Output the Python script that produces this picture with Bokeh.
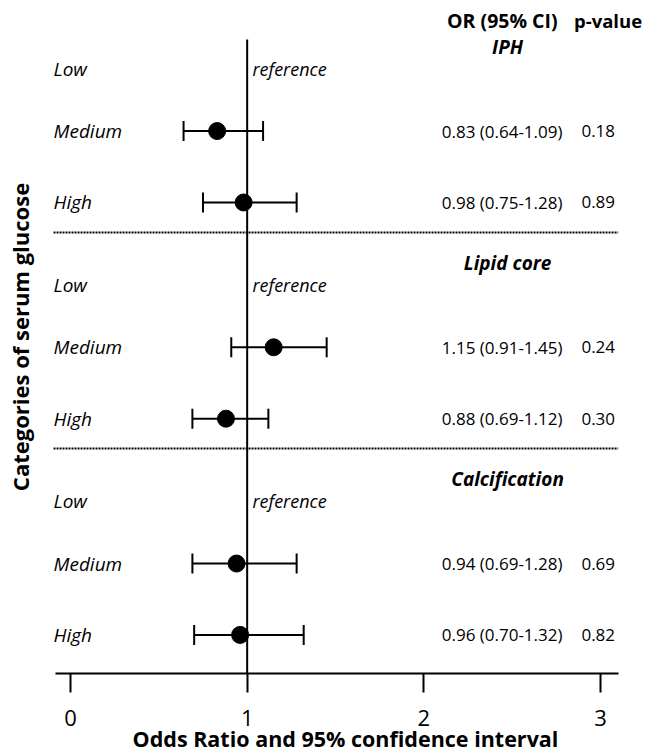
import math
from bokeh.plotting import figure
from bokeh.models import ColumnDataSource, Range1d, FixedTicker, Whisker, TeeHead, LabelSet
from bokeh.core.properties import value
from bokeh.embed import file_html
from bokeh.resources import INLINE

# ---------------- data ----------------
sections = ["IPH", "Lipid core", "Calcification"]
levels = ["Low", "Medium", "High"]
row_section = ["IPH", "IPH", "Lipid core", "Lipid core", "Calcification", "Calcification"]
row_level = ["Medium", "High", "Medium", "High", "Medium", "High"]
odds = [0.83, 0.98, 1.15, 0.88, 0.94, 0.96]
ci_lower = [0.64, 0.75, 0.91, 0.69, 0.69, 0.70]
ci_upper = [1.09, 1.28, 1.45, 1.12, 1.28, 1.32]
p_values = [0.18, 0.89, 0.24, 0.30, 0.69, 0.82]
reference_label = "reference"
column_headers = ["OR (95% CI)", "p-value"]
x_ticks = [0, 1, 2, 3]
x_title = "Odds Ratio and 95% confidence interval"
y_title = "Categories of serum glucose"

# ---------------- layout constants ----------------
LEVEL_OFFSET = {"Low": 0.0, "Medium": 0.92, "High": 1.97}
SECTION = 3.18
FONT = value("Open Sans")

def ypos(sec, lev):
    return sections.index(sec) * SECTION + LEVEL_OFFSET[lev]

W, H = 645, 755
p = figure(width=W, height=H, output_backend="svg", toolbar_location=None,
           x_range=Range1d(-0.1415, 3.2547), y_range=Range1d(8.897, -1.0),
           min_border_left=45, min_border_right=0, min_border_top=0, min_border_bottom=82)
p.outline_line_color = None
p.xgrid.visible = False
p.ygrid.visible = False
p.background_fill_color = "white"
p.border_fill_color = "white"

# y axis: only its title is shown
yax = p.yaxis[0]
yax.ticker = FixedTicker(ticks=[])
yax.axis_line_color = None
yax.major_tick_line_color = None
yax.minor_tick_line_color = None
yax.major_label_text_font_size = "0px"
yax.axis_label = y_title
yax.axis_label_text_font = "Open Sans"
yax.axis_label_text_font_style = "bold"
yax.axis_label_text_font_size = "22px"
yax.axis_label_text_color = "black"
yax.axis_label_standoff = 11

# x axis
ax = p.xaxis[0]
ax.ticker = FixedTicker(ticks=x_ticks)
ax.bounds = (-0.085, 3.10)
ax.axis_line_width = 2
ax.major_tick_line_width = 2
ax.major_tick_out = 19
ax.major_tick_in = 0
ax.minor_tick_line_color = None
ax.major_label_text_font = "Open Sans"
ax.major_label_text_font_size = "22px"
ax.major_label_text_color = "black"
ax.major_label_standoff = 17
ax.axis_label = x_title
ax.axis_label_text_font = "Open Sans"
ax.axis_label_text_font_style = "bold"
ax.axis_label_text_font_size = "21.5px"
ax.axis_label_text_color = "black"
ax.axis_label_standoff = -5

y_bottom = p.y_range.start

# vertical reference line at OR = 1
p.segment(x0=[1], y0=[-0.426], x1=[1], y1=[y_bottom], line_color="black", line_width=2)

# dotted separators between sections
sep_y = [ypos(s, "High") + 0.44 for s in sections[:-1]]
p.segment(x0=[-0.096] * len(sep_y), y0=sep_y, x1=[3.10] * len(sep_y), y1=sep_y,
          line_color="black", line_width=2, line_dash="2 1")

def labels(src, x, size, style="normal", align="left"):
    p.add_layout(LabelSet(x=x, y="y", text="t", source=src, text_font=FONT,
                          text_font_style=style, text_font_size=size, text_align=align,
                          text_baseline="middle", text_color="black"))

# category labels
cat_src = ColumnDataSource(dict(
    y=[ypos(s, l) for s in sections for l in levels],
    t=[l for s in sections for l in levels]))
labels(cat_src, -0.096, "19px", "italic")

# reference labels for Low rows
ref_src = ColumnDataSource(dict(y=[ypos(s, "Low") for s in sections], t=[reference_label] * len(sections)))
labels(ref_src, 1.03, "18px", "italic")

# section headers
hdr_src = ColumnDataSource(dict(y=[ypos(s, "Low") - 0.32 for s in sections], t=sections))
labels(hdr_src, 2.474, "19px", "bold italic", "center")

# column headers
labels(ColumnDataSource(dict(y=[-0.7], t=[column_headers[0]])), 2.757, "19.5px", "bold", "right")
labels(ColumnDataSource(dict(y=[-0.7], t=[column_headers[1]])), 2.85, "18.5px", "bold", "left")

# estimates
src = ColumnDataSource(dict(
    y=[ypos(s, l) for s, l in zip(row_section, row_level)],
    odds=odds, lower=ci_lower, upper=ci_upper,
    ortxt=[f"{o:.2f} ({lo:.2f}-{up:.2f})" for o, lo, up in zip(odds, ci_lower, ci_upper)],
    ptxt=[f"{v:.2f}" for v in p_values]))

wh = Whisker(base="y", lower="lower", upper="upper", dimension="width", source=src,
             line_color="black", line_width=2,
             upper_head=TeeHead(size=20, line_width=2, line_color="black"),
             lower_head=TeeHead(size=20, line_width=2, line_color="black"))
p.add_layout(wh)
p.scatter(x="odds", y="y", source=src, size=17, color="black", level="overlay")

p.add_layout(LabelSet(x=2.785, y="y", text="ortxt", source=src, text_font=FONT,
                      text_font_size="17px", text_align="right", text_baseline="middle",
                      text_color="black"))
p.add_layout(LabelSet(x=2.892, y="y", text="ptxt", source=src, text_font=FONT,
                      text_font_size="17px", text_align="left", text_baseline="middle",
                      text_color="black"))

open("out.html", "w").write(file_html(p, INLINE))
